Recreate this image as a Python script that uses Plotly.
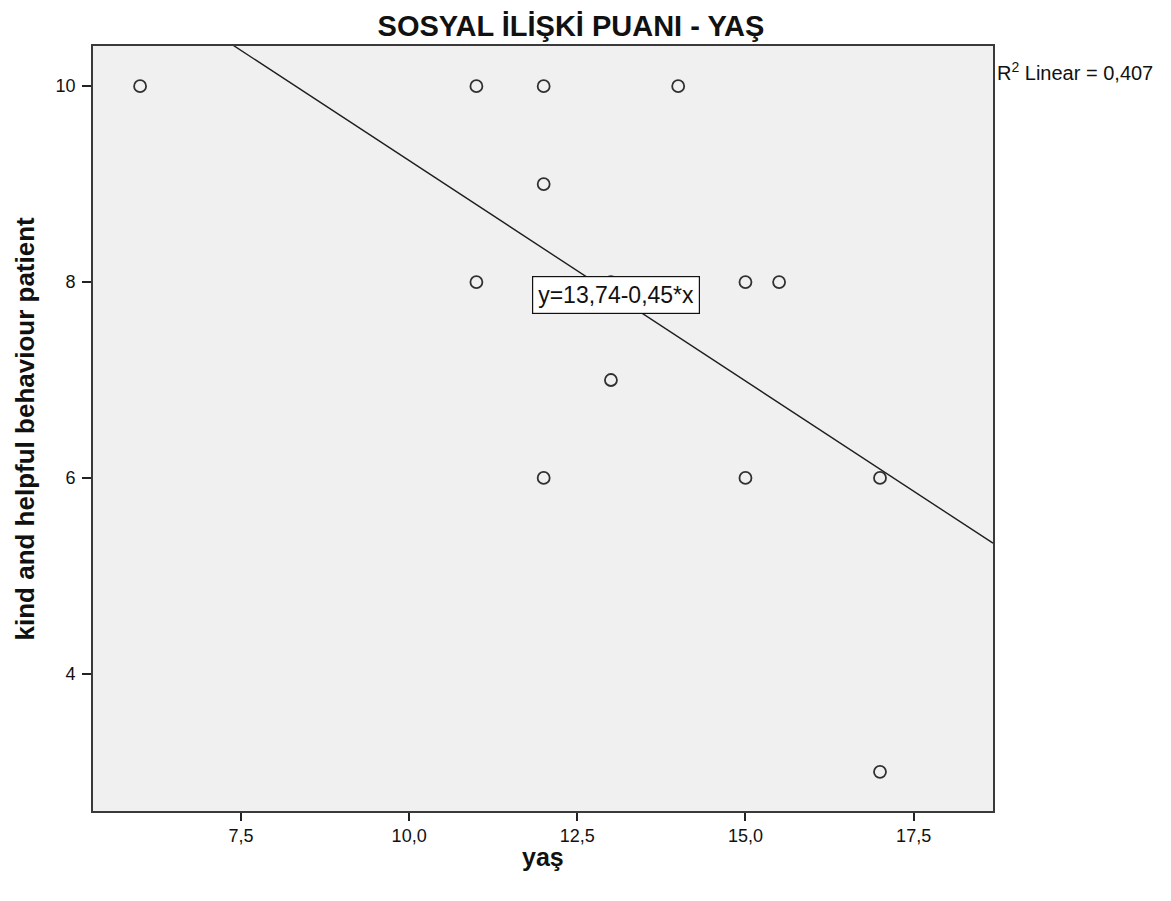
import plotly.graph_objects as go

# Data
age = [6, 11, 12, 14, 12, 11, 13, 15, 15.5, 13, 12, 15, 17, 17]
score = [10, 10, 10, 10, 9, 8, 8, 8, 8, 7, 6, 6, 6, 3]
intercept = 13.74
slope = -0.45
r2_text = "R<sup>2</sup> Linear = 0,407"
eq_text = "y=13,74-0,45*x"
title_text = "SOSYAL İLİŞKİ PUANI - YAŞ"
x_title = "yaş"
y_title = "kind and helpful behaviour patient"
x_range = [5.3, 18.68]
y_range = [2.6, 10.41]
x_ticks = [7.5, 10.0, 12.5, 15.0, 17.5]
y_ticks = [4, 6, 8, 10]

BASE = "Liberation Sans, Arial, sans-serif"
NARROW = "Liberation Sans Narrow, Arial Narrow, Liberation Sans, sans-serif"

W, H = 1163, 893
L, T = 85, 38
PW, PH = 900, 765

fig = go.Figure()

fig.add_trace(go.Scatter(
    x=x_range,
    y=[intercept + slope * v for v in x_range],
    mode="lines",
    line=dict(color="#1e1e1e", width=1.4),
    hoverinfo="skip",
    showlegend=False,
))

fig.add_trace(go.Scatter(
    x=age, y=score, mode="markers",
    marker=dict(symbol="circle-open", size=12, color="#303030", line=dict(width=1.8)),
    showlegend=False,
))

fig.add_annotation(
    x=13.07, y=7.87, xref="x", yref="y", text=eq_text, showarrow=False,
    font=dict(family=NARROW, size=23, color="#111111"),
    bgcolor="white", bordercolor="#111111", borderwidth=1.2, borderpad=5,
)

fig.add_annotation(
    x=1.0, y=1 - 26 / PH, xref="paper", yref="paper", text=r2_text, showarrow=False,
    xanchor="left", yanchor="middle", xshift=2,
    font=dict(family=BASE, size=20, color="#111111"),
)

fig.add_annotation(
    x=0, y=0.5, xref="paper", yref="paper", text="<b>" + y_title + "</b>",
    showarrow=False, textangle=-90, xanchor="center", yanchor="middle", xshift=-69,
    font=dict(family=BASE, size=26, color="#111111"),
)

fig.add_annotation(
    x=0.5, y=0, xref="paper", yref="paper", text="<b>" + x_title + "</b>",
    showarrow=False, xanchor="center", yanchor="middle", yshift=-46,
    font=dict(family=NARROW, size=25, color="#111111"),
)

fig.update_layout(
    width=W, height=H,
    margin=dict(l=L, r=W - L - PW, t=T, b=H - T - PH),
    paper_bgcolor="white",
    plot_bgcolor="#f0f0f0",
    separators=",.",
    font=dict(family=BASE, size=14, color="#111111"),
    title=dict(
        text="<b>" + title_text + "</b>",
        x=563 / W, xanchor="center",
        y=1 - 18 / H, yanchor="middle",
        font=dict(family=BASE, size=29, color="#111111"),
    ),
    xaxis=dict(
        range=x_range, tickvals=x_ticks, tickformat=".1f",
        ticks="outside", ticklen=8, tickwidth=1.5, tickcolor="#222222",
        ticklabelstandoff=0,
        showline=True, linecolor="#3a3a3a", linewidth=1.6, mirror=True,
        showgrid=False, zeroline=False,
        tickfont=dict(family=NARROW, size=18, color="#111111"),
    ),
    yaxis=dict(
        range=y_range, tickvals=y_ticks,
        ticks="outside", ticklen=9, tickwidth=1.5, tickcolor="#222222",
        ticklabelstandoff=3,
        showline=True, linecolor="#3a3a3a", linewidth=1.6, mirror=True,
        showgrid=False, zeroline=False,
        tickfont=dict(family=NARROW, size=18, color="#111111"),
    ),
)

fig.write_html("out.html")
